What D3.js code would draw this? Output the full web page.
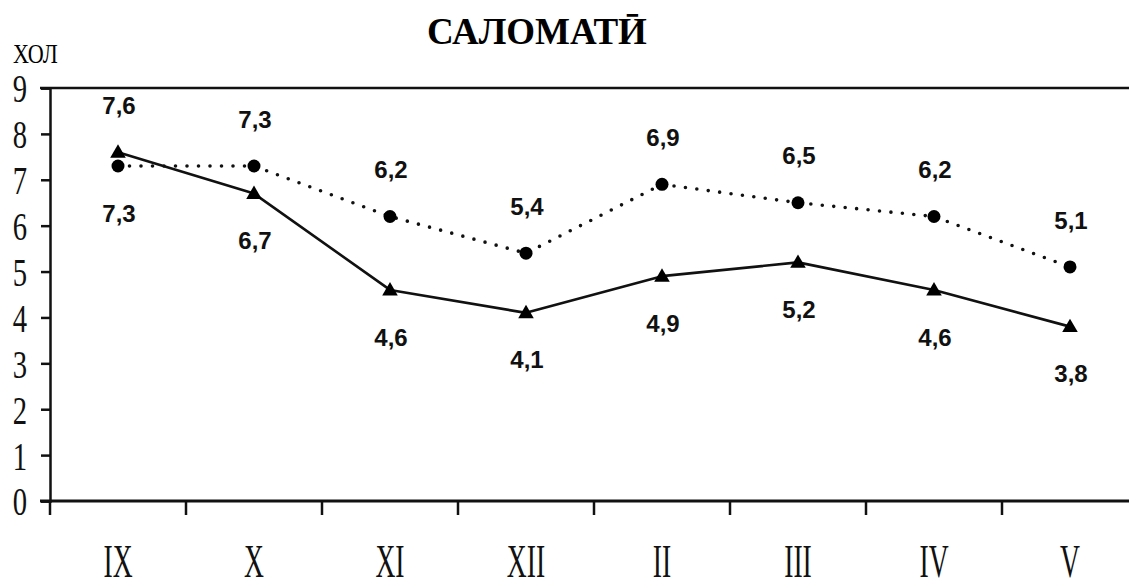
<!DOCTYPE html>
<html>
<head>
<meta charset="utf-8">
<script src="https://cdn.jsdelivr.net/npm/d3@7"></script>
<style>
  html, body { margin: 0; padding: 0; background: #fff; }
  svg { display: block; }
</style>
</head>
<body>
<svg id="chart" width="1129" height="580"></svg>
<script>
// ---- data ----
const months = ["IX", "X", "XI", "XII", "II", "III", "IV", "V"];
const dottedValues = [7.3, 7.3, 6.2, 5.4, 6.9, 6.5, 6.2, 5.1];   // circles, dotted line
const solidValues  = [7.6, 6.7, 4.6, 4.1, 4.9, 5.2, 4.6, 3.8];   // triangles, solid line
const yTicks = [0, 1, 2, 3, 4, 5, 6, 7, 8, 9];
const titleText = "САЛОМАТӢ";
const unitText = "ХОЛ";

// ---- layout ----
const W = 1129, H = 580;
const plotLeft = 50, plotRight = 1138, plotTop = 88, plotBottom = 501;
const svg = d3.select("#chart");

const x = d3.scaleBand().domain(months).range([plotLeft, plotRight]).padding(0);
const y = d3.scaleLinear().domain([0, 9]).range([plotBottom, plotTop]);
const cx = m => x(m) + x.bandwidth() / 2;

const serif = "'Liberation Serif', 'Times New Roman', 'DejaVu Serif', serif";
const sans = "'Liberation Sans', Arial, sans-serif";

// title
svg.append("text")
  .attr("x", 537).attr("y", 44)
  .attr("text-anchor", "middle")
  .style("font-family", serif).style("font-weight", "bold").style("font-size", "37px")
  .text(titleText);

// unit label (condensed serif)
svg.append("text")
  .attr("transform", "translate(13,63) scale(0.82,1)")
  .style("font-family", serif).style("font-size", "27px")
  .text(unitText);

// horizontal frame lines at top (9) and bottom (0)
[9, 0].forEach(v => {
  svg.append("line")
    .attr("x1", 40).attr("x2", W)
    .attr("y1", y(v)).attr("y2", y(v))
    .attr("stroke", "#111").attr("stroke-width", v === 0 ? 3 : 2.5);
});

// y axis
const yAxis = svg.append("g")
  .attr("transform", `translate(${plotLeft},0)`)
  .call(d3.axisLeft(y).tickValues(yTicks).tickSize(9).tickFormat(d3.format("d")));
yAxis.select(".domain").attr("stroke", "#111").attr("stroke-width", 2.5);
yAxis.selectAll(".tick line").attr("stroke", "#111").attr("stroke-width", 2.5);
// condensed tall serif tick labels
yAxis.selectAll(".tick text")
  .attr("x", null)
  .attr("transform", "translate(-23,0) scale(0.7,1)")
  .attr("dy", "0.34em")
  .attr("text-anchor", "end")
  .style("font-family", serif).style("font-size", "41px").attr("fill", "#111");

// x axis boundary ticks
svg.append("g").selectAll("line")
  .data(months)
  .join("line")
  .attr("x1", d => x(d)).attr("x2", d => x(d))
  .attr("y1", plotBottom).attr("y2", plotBottom + 14)
  .attr("stroke", "#111").attr("stroke-width", 2.5);

// x axis labels (condensed tall serif)
svg.append("g").selectAll("text")
  .data(months)
  .join("text")
  .attr("transform", d => `translate(${cx(d)},577) scale(0.6,1)`)
  .attr("text-anchor", "middle")
  .style("font-family", serif).style("font-size", "46px").attr("fill", "#111")
  .text(d => d);

// lines
const line = vals => d3.line()
  .x((d, i) => cx(months[i]))
  .y(d => y(d))(vals);

svg.append("path")
  .attr("d", line(dottedValues))
  .attr("fill", "none").attr("stroke", "#111")
  .attr("stroke-width", 3.6).attr("stroke-linecap", "round")
  .attr("stroke-dasharray", "0 11.5");

svg.append("path")
  .attr("d", line(solidValues))
  .attr("fill", "none").attr("stroke", "#111")
  .attr("stroke-width", 2.6).attr("stroke-linejoin", "round");

// markers
svg.append("g").selectAll("circle")
  .data(dottedValues)
  .join("circle")
  .attr("cx", (d, i) => cx(months[i])).attr("cy", d => y(d))
  .attr("r", 6.5).attr("fill", "#000");

const tri = d3.symbol().type(d3.symbolTriangle).size(105);
svg.append("g").selectAll("path")
  .data(solidValues)
  .join("path")
  .attr("d", tri)
  .attr("transform", (d, i) => `translate(${cx(months[i])},${y(d) + 1})`)
  .attr("fill", "#000");

// value labels: higher value above, lower value below
const fmt = v => d3.format(".1f")(v).replace(".", ",");
function addLabels(vals, other) {
  svg.append("g").selectAll("text")
    .data(vals)
    .join("text")
    .attr("x", (d, i) => cx(months[i]) + 1)
    .attr("y", (d, i) => y(d) + (d >= other[i] ? -47 : 47))
    .attr("dy", "0.36em")
    .attr("text-anchor", "middle")
    .style("font-family", sans).style("font-weight", "bold").style("font-size", "24px")
    .attr("fill", "#111")
    .text(d => fmt(d));
}
addLabels(dottedValues, solidValues);
addLabels(solidValues, dottedValues);
</script>
</body>
</html>
